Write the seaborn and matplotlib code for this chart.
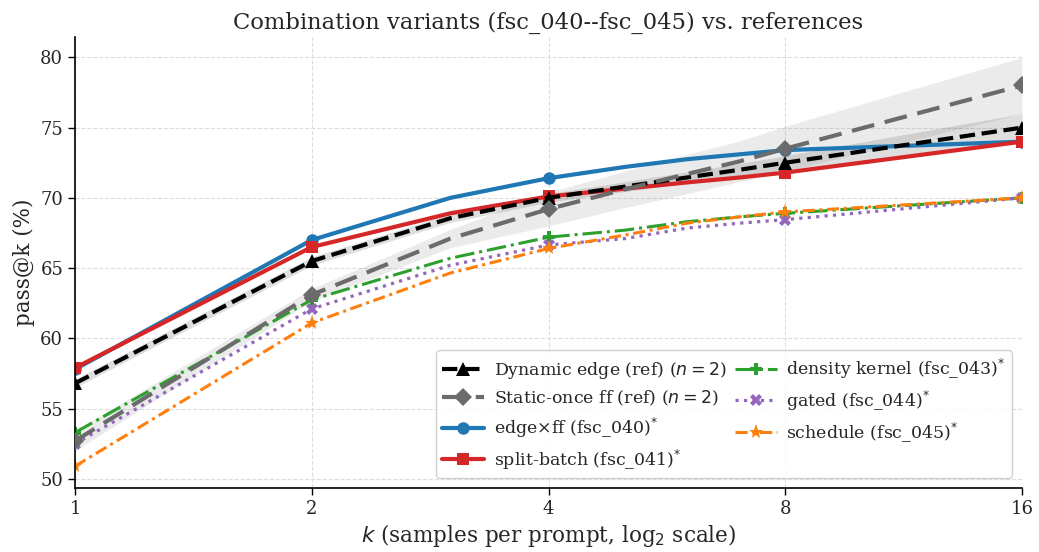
import numpy as np
import pandas as pd
import matplotlib
matplotlib.use("Agg")
import matplotlib.pyplot as plt
from matplotlib.lines import Line2D
from matplotlib.ticker import NullLocator, FixedLocator, FixedFormatter
import seaborn as sns

# ---------------- data ----------------
K = [1, 2, 3, 4, 5, 6, 7, 8, 16]
MARK_IDX = [0, 1, 3, 7, 8]          # markers only at powers of two

# reference runs (n = 2 each)
dyn_run1 = [57.1, 65.8, 68.85, 70.3, 71.15, 71.85, 72.45, 73.0, 76.0]
dyn_run2 = [56.5, 65.2, 68.25, 69.7, 70.45, 71.05, 71.55, 72.0, 74.0]
stat_run1 = [53.4, 63.55, 67.75, 70.4, 71.9, 73.1, 74.05, 75.1, 80.0]
stat_run2 = [52.0, 62.65, 66.45, 68.0, 69.3, 70.3, 71.15, 71.9, 76.0]

# single-run variants
edge_ff = [57.8, 67.0, 70.0, 71.4, 72.2, 72.75, 73.1, 73.4, 74.0]
split_batch = [57.9, 66.5, 68.9, 70.1, 70.65, 71.1, 71.45, 71.8, 74.0]
density_kernel = [53.3, 62.75, 65.7, 67.2, 67.7, 68.3, 68.65, 68.9, 70.0]
gated = [52.5, 62.1, 65.2, 66.65, 67.1, 67.85, 68.2, 68.45, 70.0]
schedule = [50.9, 61.1, 64.65, 66.4, 67.35, 68.2, 68.65, 69.0, 70.0]

XTICKS = [1, 2, 4, 8, 16]
XTICKLABELS = ["1", "2", "4", "8", "16"]
YTICKS = [50, 55, 60, 65, 70, 75, 80]

LABELS = [
    r"Dynamic edge (ref) ($n=2$)",
    r"Static-once ff (ref) ($n=2$)",
    r"edge×ff (fsc_040)$^{*}$",
    r"split-batch (fsc_041)$^{*}$",
    r"density kernel (fsc_043)$^{*}$",
    r"gated (fsc_044)$^{*}$",
    r"schedule (fsc_045)$^{*}$",
]

# ---------------- style ----------------
sns.set_style("ticks")
plt.rcParams["font.family"] = ["DejaVu Serif"]
plt.rcParams["mathtext.fontset"] = "dejavusans"

fig, ax = plt.subplots(figsize=(10.39, 5.52), dpi=100)
fig.subplots_adjust(left=75 / 1039, right=1022 / 1039, bottom=1 - 488 / 552, top=1 - 37 / 552)

GRAY = "#6b6b6b"
styles = [
    dict(color="black", ls=(0, (3.7, 1.6)), lw=3.0, marker="^", ms=10),
    dict(color=GRAY, ls=(0, (5.5, 2.6)), lw=3.0, marker="D", ms=9.5),
    dict(color="#1f77b4", ls="-", lw=3.0, marker="o", ms=9),
    dict(color="#d62728", ls="-", lw=3.0, marker="s", ms=9),
    dict(color="#2ca02c", ls=(0, (6.4, 1.6, 1.0, 1.6)), lw=2.2, marker="P", ms=9),
    dict(color="#9467bd", ls=(0, (1.0, 1.65)), lw=2.3, marker="X", ms=9),
    dict(color="#ff7f0e", ls=(0, (4.0, 1.5, 1.0, 1.5)), lw=2.2, marker="*", ms=11),
]


def runs_df(r1, r2):
    return pd.DataFrame({
        "k": K + K,
        "pass": r1 + r2,
        "run": [1] * len(K) + [2] * len(K),
    })


def band(v):
    return (v.min(), v.max())


# reference curves with min-max band over the two runs
ref_data = [(dyn_run1, dyn_run2), (stat_run1, stat_run2)]
for i, (r1, r2) in enumerate(ref_data):
    st = styles[i]
    sns.lineplot(data=runs_df(r1, r2), x="k", y="pass", errorbar=band,
                 color=st["color"], linestyle=st["ls"], linewidth=st["lw"],
                 marker=st["marker"], markersize=st["ms"], markevery=MARK_IDX,
                 markeredgewidth=0, err_kws=dict(alpha=0.13, linewidth=0),
                 zorder=3, ax=ax, legend=False)

variants = [edge_ff, split_batch, density_kernel, gated, schedule]
for j, vals in enumerate(variants):
    st = styles[j + 2]
    sns.lineplot(x=K, y=vals, errorbar=None,
                 color=st["color"], linestyle=st["ls"], linewidth=st["lw"],
                 marker=st["marker"], markersize=st["ms"], markevery=MARK_IDX,
                 markeredgewidth=0, zorder=2, ax=ax, legend=False)

ax.set_xscale("log", base=2)
ax.set_xlim(1, 16)
ax.set_ylim(49.35, 81.45)
ax.xaxis.set_major_locator(FixedLocator(XTICKS))
ax.xaxis.set_major_formatter(FixedFormatter(XTICKLABELS))
ax.xaxis.set_minor_locator(NullLocator())
ax.set_yticks(YTICKS)
ax.tick_params(axis="both", labelsize=13, length=5, width=1.0, color="black")
for s in ["left", "bottom"]:
    ax.spines[s].set_color("black")
    ax.spines[s].set_linewidth(1.2)
sns.despine(ax=ax)
ax.grid(True, ls="--", lw=0.8, color="#dddddd")
ax.set_axisbelow(True)

ax.set_xlabel(r"$k$ (samples per prompt, log$_2$ scale)", fontsize=15.5, labelpad=3)
ax.set_ylabel("pass@k (%)", fontsize=15.5)
ax.set_title("Combination variants (fsc_040--fsc_045) vs. references", fontsize=16.3)

handles = [Line2D([0], [0], color=st["color"], ls=st["ls"], lw=st["lw"],
                  marker=st["marker"], ms=st["ms"], markeredgewidth=0)
           for st in styles]
leg = ax.legend(handles, LABELS, ncol=2, loc="lower right", fontsize=12.5,
                frameon=True, fancybox=True, edgecolor="#cccccc",
                framealpha=0.9, handlelength=2.4, handletextpad=0.55,
                columnspacing=0.5, labelspacing=0.45, borderpad=0.35,
                borderaxespad=0.6)

fig.savefig("out.png", dpi=100)
